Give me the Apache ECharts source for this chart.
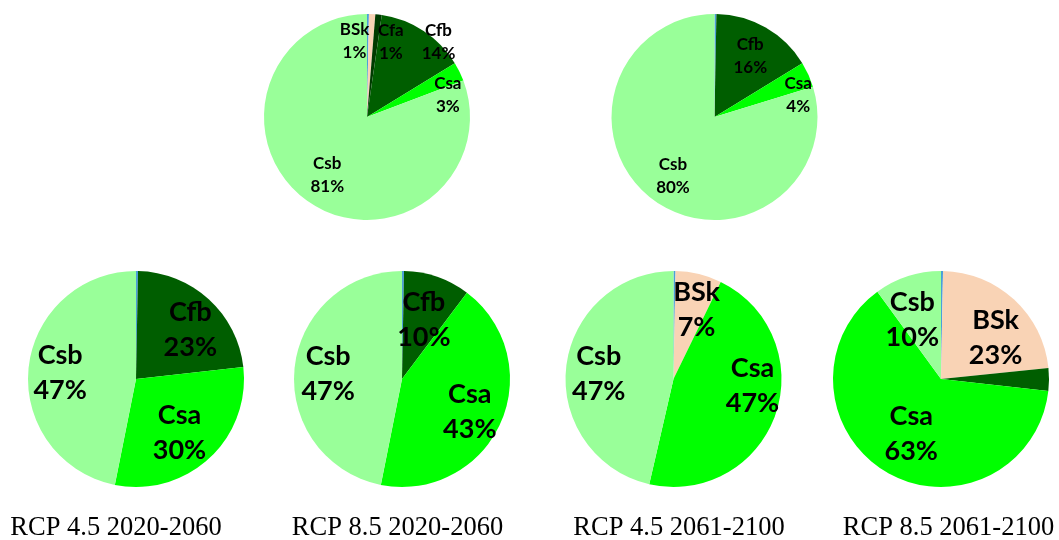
<!DOCTYPE html>
<html>
<head>
<meta charset="utf-8">
<script src="https://cdn.jsdelivr.net/npm/echarts@6/dist/echarts.min.js"></script>
<style>html,body{margin:0;padding:0;background:#fff}#c{width:1059px;height:540px}</style>
</head>
<body>
<div id="c"></div>
<script>
// Categories (first, unnamed one is the thin blue divider at 12 o'clock)
const categories = ['', 'BSk', 'Cfa', 'Cfb', 'Csa', 'Csb'];
const catColors  = ['#4a9fd9', '#f9d3b5', '#003b00', '#005e00', '#00ff00', '#99ff99'];

// Values (%) per pie, in category order
const topLeft     = [0.3, 1, 1, 14, 3, 81];
const topRight    = [0.3, 0, 0, 16, 4, 80];
const rcp45early  = [0.3, 0, 0, 23, 30, 47];
const rcp85early  = [0.3, 0, 0, 10, 43, 47];
const rcp45late   = [0.3, 7, 0, 0, 47, 47];
const rcp85late   = [0.3, 23, 0, 3.4, 63, 10];

const captions = ['RCP 4.5 2020-2060', 'RCP 8.5 2020-2060', 'RCP 4.5 2061-2100', 'RCP 8.5 2061-2100'];

// unlabeled slices per pie (category names)
const unlabeled = [[], [], [], [], [], ['Cfb']];

// layout / style
const pies = [
  {vals: topLeft,    c: [367, 117],   r: 103, fs: 17, lh: 23},
  {vals: topRight,   c: [714.5, 117], r: 103, fs: 17, lh: 23},
  {vals: rcp45early, c: [136, 379],   r: 108, fs: 27, lh: 35},
  {vals: rcp85early, c: [402, 379],   r: 108, fs: 27, lh: 35},
  {vals: rcp45late,  c: [673.5, 379], r: 108, fs: 27, lh: 35},
  {vals: rcp85late,  c: [941, 379],   r: 108, fs: 27, lh: 35}
];
// label nudges (dx, dy) by category name, per pie
const nudges = [
  {BSk: [-16, -6], Cfa: [16, -5], Cfb: [33, -17], Csa: [18, 9], Csb: [0, 0]},
  {Cfb: [1, 0], Csa: [20, 7], Csb: [0, 3]},
  {Cfb: [5, 5], Csa: [-6, 0], Csb: [-3, 1]},
  {Cfb: [-2, 10], Csa: [1, 3], Csb: [-1, 2]},
  {BSk: [6, 2], Csa: [10, -18], Csb: [-2, 3]},
  {BSk: [5, 13], Csa: [7, -8], Csb: [-6, 10]}
];
const captionX = [116, 397.5, 679, 948.5];

const series = [];
pies.forEach((p, i) => {
  const data = [];
  p.vals.forEach((v, k) => {
    if (v > 0) data.push({name: categories[k], value: v, itemStyle: {color: catColors[k]}});
  });
  series.push({
    type: 'pie', center: p.c, radius: [0, p.r], startAngle: 90, clockwise: true,
    silent: true, animation: false, label: {show: false}, labelLine: {show: false},
    itemStyle: {borderWidth: 0}, data: data
  });
  const labelData = data.map(d => ({
    name: d.name, value: d.value,
    label: {show: d.name !== '' && unlabeled[i].indexOf(d.name) < 0}
  }));
  const nd = nudges[i];
  series.push({
    type: 'pie', center: p.c, radius: [p.r * 0.3, p.r], startAngle: 90, clockwise: true,
    silent: true, animation: false,
    itemStyle: {color: 'rgba(0,0,0,0)', borderWidth: 0},
    labelLine: {show: false},
    label: {
      position: 'inside', formatter: '{b}\n{c}%',
      fontFamily: 'Lato', fontWeight: 'bold', fontSize: p.fs, lineHeight: p.lh, color: '#000'
    },
    labelLayout: function (params) {
      const n = nd[labelData[params.dataIndex].name] || [0, 0];
      return {dx: n[0], dy: n[1]};
    },
    data: labelData
  });
});

const chart = echarts.init(document.getElementById('c'));
chart.setOption({
  animation: false,
  title: captions.map((t, i) => ({
    text: t, left: captionX[i], top: 515, textAlign: 'center', padding: 0,
    textStyle: {fontFamily: 'Liberation Serif', fontWeight: 'normal', fontSize: 26.5, color: '#000'}
  })),
  series: series
});
</script>
</body>
</html>
